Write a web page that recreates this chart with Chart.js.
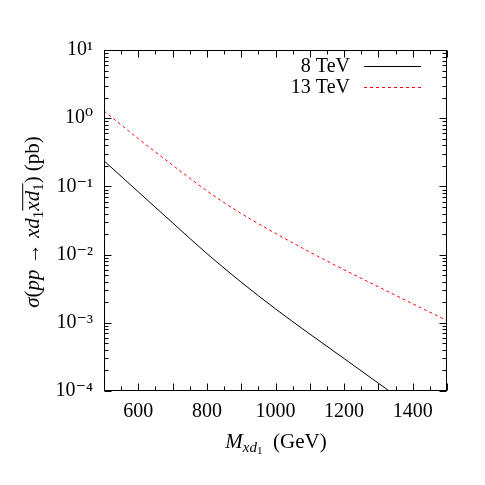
<!DOCTYPE html>
<html><head><meta charset="utf-8">
<script src="https://cdn.jsdelivr.net/npm/chart.js@4/dist/chart.umd.min.js"></script>
<style>html,body{margin:0;padding:0;background:#fff}#wrap{width:485px;height:485px}</style>
</head><body><div id="wrap"><canvas id="c" width="485" height="485"></canvas></div>
<script>
// ---- data ----
const masses = [500, 600, 700, 800, 900, 1000, 1100, 1200, 1300, 1400, 1500];
const sigma8TeV = [0.237, 0.0832, 0.0292, 0.01035, 0.00394, 0.00160, 0.000684, 0.000299, 0.000130, 0.0000569, 0.0000248];
const sigma13TeV = [1.28, 0.50, 0.205, 0.086, 0.040, 0.0205, 0.0109, 0.0060, 0.00337, 0.00190, 0.00108];
const seriesLabels = ['8 TeV', '13 TeV'];
const xTickValues = [600, 800, 1000, 1200, 1400];
const yTickValues = [1e-4, 1e-3, 1e-2, 1e-1, 1, 10];
const yTickLabels = ['10⁻⁴', '10⁻³', '10⁻²', '10⁻¹', '10⁰', '10¹'];

const FONT = '"Liberation Serif", "DejaVu Serif", serif';

function segFont(s, base) {
  return (s.italic ? 'italic ' : '') + Math.round(base * (s.scale || 1)) + 'px ' + FONT;
}
function richWidth(ctx, segs, base) {
  let w = 0;
  for (const s of segs) { ctx.font = segFont(s, base); w += ctx.measureText(s.t).width; }
  return w;
}
function drawRich(ctx, segs, x, y, base) {
  let cx = x;
  for (const s of segs) {
    ctx.font = segFont(s, base);
    const w = ctx.measureText(s.t).width;
    ctx.fillText(s.t, cx, y + (s.dy || 0));
    if (s.over) {
      ctx.beginPath();
      ctx.lineWidth = 1;
      ctx.moveTo(cx, y - base * 0.8 + 0.5);
      ctx.lineTo(cx + w, y - base * 0.8 + 0.5);
      ctx.stroke();
    }
    cx += w;
  }
}

const xTitle = [
  {t: 'M', italic: true},
  {t: 'xd', italic: true, scale: 0.7, dy: 4},
  {t: '1', scale: 0.5, dy: 6},
  {t: '  (GeV)'}
];
const yTitle = [
  {t: 'σ', italic: true},
  {t: '('},
  {t: 'pp', italic: true},
  {t: ' → '},
  {t: 'xd', italic: true},
  {t: '1', scale: 0.7, dy: 4},
  {t: 'xd', italic: true, over: true},
  {t: '1', scale: 0.7, dy: 4, over: true},
  {t: ')'},
  {t: ' (pb)'}
];

const decorPlugin = {
  id: 'decor',
  afterDatasetsDraw(chart) {
    const ctx = chart.ctx;
    const a = chart.chartArea;
    const xs = chart.scales.x, ys = chart.scales.y;
    ctx.save();
    ctx.strokeStyle = '#000';
    ctx.fillStyle = '#000';
    ctx.lineWidth = 1;
    // frame
    const L = Math.round(a.left) + 0.5, R = Math.round(a.right) - 0.5;
    const T = Math.round(a.top) + 0.5, B = Math.round(a.bottom) - 0.5;
    ctx.strokeRect(L, T, R - L, B - T);
    // x ticks
    ctx.beginPath();
    for (let v = 500; v <= 1500; v += 50) {
      const px = Math.round(xs.getPixelForValue(v)) + 0.5;
      const len = (v % 100 === 0) ? 7 : 4;
      ctx.moveTo(px, B); ctx.lineTo(px, B - len);
      ctx.moveTo(px, T); ctx.lineTo(px, T + len);
    }
    // y ticks
    for (let e = -4; e <= 1; e++) {
      for (let m = 1; m <= 9; m++) {
        const v = m * Math.pow(10, e);
        if (v > 10 + 1e-9) break;
        const py = Math.round(ys.getPixelForValue(v)) + 0.5;
        const len = (m === 1) ? 7 : 4;
        ctx.moveTo(L, py); ctx.lineTo(L + len, py);
        ctx.moveTo(R, py); ctx.lineTo(R - len, py);
      }
    }
    ctx.stroke();

    // legend
    ctx.textAlign = 'right';
    ctx.textBaseline = 'middle';
    ctx.font = '20px ' + FONT;
    const rows = [66.5, 87.5];
    chart.data.datasets.forEach((ds, i) => {
      ctx.fillStyle = '#000';
      ctx.fillText(ds.label, 350, rows[i]);
      ctx.beginPath();
      ctx.strokeStyle = ds.borderColor;
      ctx.lineWidth = ds.borderWidth;
      ctx.setLineDash(ds.borderDash || []);
      ctx.moveTo(364, rows[i]); ctx.lineTo(421, rows[i]);
      ctx.stroke();
      ctx.setLineDash([]);
    });

    // axis titles
    ctx.fillStyle = '#000';
    ctx.strokeStyle = '#000';
    ctx.textAlign = 'left';
    ctx.textBaseline = 'alphabetic';
    const base = 21;
    const wx = richWidth(ctx, xTitle, base);
    drawRich(ctx, xTitle, 276 - wx / 2, 448, base);

    const wy = richWidth(ctx, yTitle, base);
    ctx.translate(39, 222);
    ctx.rotate(-Math.PI / 2);
    drawRich(ctx, yTitle, -wy / 2, 0, base);
    ctx.restore();
  }
};

new Chart(document.getElementById('c'), {
  type: 'line',
  data: {
    datasets: [
      {
        label: seriesLabels[0],
        data: masses.map((m, i) => ({x: m, y: sigma8TeV[i]})),
        borderColor: '#000000',
        borderWidth: 1,
        pointRadius: 0,
        cubicInterpolationMode: 'monotone',
        fill: false
      },
      {
        label: seriesLabels[1],
        data: masses.map((m, i) => ({x: m, y: sigma13TeV[i]})),
        borderColor: '#ff0000',
        borderWidth: 1,
        borderDash: [3, 3],
        pointRadius: 0,
        cubicInterpolationMode: 'monotone',
        fill: false
      }
    ]
  },
  options: {
    responsive: false,
    animation: false,
    devicePixelRatio: 1,
    layout: {padding: {top: 50, right: 38, left: 0, bottom: 0}},
    plugins: {legend: {display: false}, tooltip: {enabled: false}},
    scales: {
      x: {
        type: 'linear',
        min: 500, max: 1500,
        afterFit(s) { s.height = 94; },
        afterBuildTicks(s) { s.ticks = xTickValues.map(v => ({value: v})); },
        grid: {display: false, drawTicks: false},
        border: {display: false},
        ticks: {
          color: '#000', padding: 9, maxRotation: 0, autoSkip: false,
          font: {family: FONT, size: 20},
          callback: v => String(v)
        }
      },
      y: {
        type: 'logarithmic',
        min: 1e-4, max: 10,
        afterFit(s) { s.width = 104; },
        afterBuildTicks(s) { s.ticks = yTickValues.map(v => ({value: v})); },
        grid: {display: false, drawTicks: false},
        border: {display: false},
        ticks: {
          color: '#000', padding: 11, autoSkip: false,
          font: {family: FONT, size: 20},
          callback: v => { const i = yTickValues.findIndex(t => Math.abs(t - v) / t < 1e-6); return i >= 0 ? yTickLabels[i] : ''; }
        }
      }
    }
  },
  plugins: [decorPlugin]
});
</script>
</body></html>
